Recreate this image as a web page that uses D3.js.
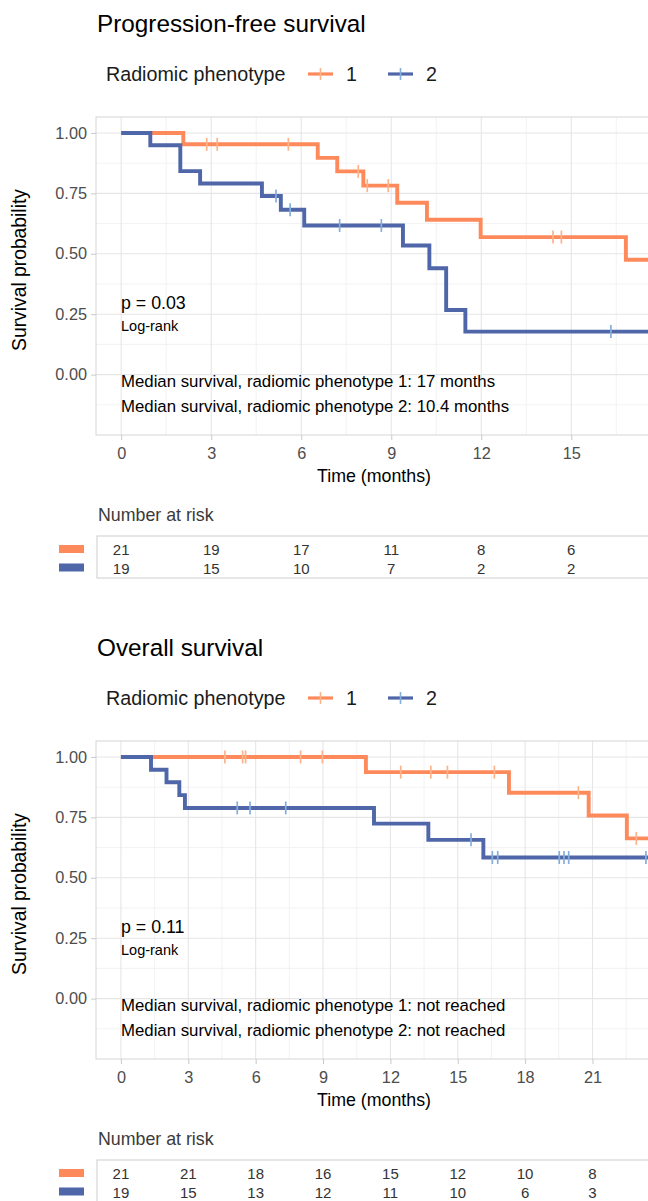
<!DOCTYPE html>
<html>
<head>
<meta charset="utf-8">
<script src="https://cdn.jsdelivr.net/npm/d3@7"></script>
<style>
  body { margin: 0; background: #fff; }
  svg { display: block; font-family: "Liberation Sans", Arial, sans-serif; }
</style>
</head>
<body>
<script>
"use strict";
// Progression-free survival
var pfsTimeTicks = [0, 3, 6, 9, 12, 15];
var pfs1Time = [0, 2.07, 6.55, 7.2, 8.07, 9.2, 10.19, 11.98, 16.82];
var pfs1Surv = [1, 0.953, 0.897, 0.841, 0.782, 0.711, 0.641, 0.569, 0.475];
var pfs1Censor = [2.85, 3.2, 5.57, 7.9, 8.2, 8.9, 14.39, 14.67];
var pfs2Time = [0, 0.97, 1.97, 2.63, 4.69, 5.32, 6.1, 9.39, 10.27, 10.83, 11.47];
var pfs2Surv = [1, 0.949, 0.842, 0.791, 0.739, 0.682, 0.617, 0.534, 0.440, 0.267, 0.178];
var pfs2Censor = [5.16, 5.63, 7.28, 8.67, 16.32];
var pfsRisk1 = [21, 19, 17, 11, 8, 6];
var pfsRisk2 = [19, 15, 10, 7, 2, 2];

// Overall survival
var osTimeTicks = [0, 3, 6, 9, 12, 15, 18, 21];
var os1Time = [0, 10.91, 17.28, 20.83, 22.53];
var os1Surv = [1, 0.937, 0.852, 0.758, 0.663];
var os1Censor = [4.63, 5.42, 5.55, 8.0, 8.97, 12.46, 13.8, 14.54, 16.63, 20.37, 22.95];
var os2Time = [0, 1.34, 2.03, 2.6, 2.85, 11.27, 13.69, 16.14];
var os2Surv = [1, 0.947, 0.895, 0.842, 0.789, 0.724, 0.657, 0.584];
var os2Censor = [5.18, 5.75, 7.34, 15.59, 16.54, 16.78, 19.52, 19.73, 19.94, 23.38];
var osRisk1 = [21, 21, 18, 16, 15, 12, 10, 8];
var osRisk2 = [19, 15, 13, 12, 11, 10, 6, 3];

var yTicks = [0, 0.25, 0.5, 0.75, 1];
var groups = ["1", "2"];
var colors = ["#FE8A5C", "#4F67A8"];
var censorColors = ["#FDB38A", "#86AEDD"];

var svg = d3.select("body").append("svg")
    .attr("width", 648)
    .attr("height", 1201);

function survAt(times, surv, t) {
    var s = 1;
    for (var i = 0; i < times.length; i++) {
        if (times[i] <= t) s = surv[i];
    }
    return s;
}

function drawKM(o) {
    var g = svg.append("g").attr("transform", "translate(0," + o.dy + ")");
    var left = 96, right = 652, top = 117, bottom = 435;
    var x = d3.scaleLinear().domain(o.xDomain).range([left, right]);
    var y = d3.scaleLinear().domain([-0.25, 1.066]).range([bottom, top]);

    // title + legend
    g.append("text").attr("x", 97).attr("y", 32)
        .style("font-size", "24.3px").attr("fill", "#000").text(o.title);
    g.append("text").attr("x", 106).attr("y", 81)
        .style("font-size", "19.7px").attr("fill", "#1a1a1a").text("Radiomic phenotype");
    var keyX = [308, 388];
    groups.forEach(function(k, i) {
        g.append("line").attr("x1", keyX[i]).attr("x2", keyX[i] + 25)
            .attr("y1", 74).attr("y2", 74)
            .attr("stroke", colors[i]).attr("stroke-width", 3.2);
        g.append("line").attr("x1", keyX[i] + 12.5).attr("x2", keyX[i] + 12.5)
            .attr("y1", 68).attr("y2", 80)
            .attr("stroke", censorColors[i]).attr("stroke-width", 1.6);
        g.append("text").attr("x", keyX[i] + 38).attr("y", 81)
            .style("font-size", "19.7px").attr("fill", "#1a1a1a").text(k);
    });

    // grid
    var xMinor = d3.range(1.5, o.xDomain[1], 3);
    var yMinor = [-0.125, 0.125, 0.375, 0.625, 0.875];
    g.selectAll(".xminor").data(xMinor).enter().append("line")
        .attr("x1", x).attr("x2", x).attr("y1", top).attr("y2", bottom)
        .attr("stroke", "#efefef").attr("stroke-width", 0.8);
    g.selectAll(".yminor").data(yMinor).enter().append("line")
        .attr("x1", left).attr("x2", right).attr("y1", y).attr("y2", y)
        .attr("stroke", "#efefef").attr("stroke-width", 0.8);
    g.selectAll(".xmajor").data(o.ticks).enter().append("line")
        .attr("x1", x).attr("x2", x).attr("y1", top).attr("y2", bottom)
        .attr("stroke", "#e6e6e6").attr("stroke-width", 1.1);
    g.selectAll(".ymajor").data(yTicks).enter().append("line")
        .attr("x1", left).attr("x2", right).attr("y1", y).attr("y2", y)
        .attr("stroke", "#e6e6e6").attr("stroke-width", 1.1);
    g.append("rect").attr("x", left).attr("y", top)
        .attr("width", right - left).attr("height", bottom - top)
        .attr("fill", "none").attr("stroke", "#d6d6d6").attr("stroke-width", 1);

    // axes
    var yAxis = g.append("g").attr("transform", "translate(" + left + ",0)")
        .call(d3.axisLeft(y).tickValues(yTicks).tickFormat(d3.format(".2f")).tickSize(5).tickPadding(4));
    var xAxis = g.append("g").attr("transform", "translate(0," + bottom + ")")
        .call(d3.axisBottom(x).tickValues(o.ticks).tickSize(5).tickPadding(7));
    [yAxis, xAxis].forEach(function(a) {
        a.select(".domain").remove();
        a.selectAll(".tick line").attr("stroke", "#c8c8c8");
        a.selectAll("text").style("font-size", "16.3px")
            .style("font-family", "'Liberation Sans', Arial, sans-serif").attr("fill", "#4d4d4d");
    });
    g.append("text").attr("x", 374).attr("y", 482).attr("text-anchor", "middle")
        .style("font-size", "17.8px").attr("fill", "#000").text("Time (months)");
    g.append("text").attr("transform", "translate(26,270) rotate(-90)")
        .attr("text-anchor", "middle")
        .style("font-size", "19.3px").attr("fill", "#000").text("Survival probability");

    // curves
    var clipId = "clip" + o.dy;
    g.append("clipPath").attr("id", clipId).append("rect")
        .attr("x", left).attr("y", top).attr("width", right - left).attr("height", bottom - top);
    var line = d3.line().x(function(d) { return x(d[0]); })
        .y(function(d) { return y(d[1]); }).curve(d3.curveStepAfter);
    var plot = g.append("g").attr("clip-path", "url(#" + clipId + ")");
    o.series.forEach(function(s, i) {
        var pts = s.time.map(function(t, j) { return [t, s.surv[j]]; });
        pts.push([o.xDomain[1], s.surv[s.surv.length - 1]]);
        plot.append("path").datum(pts).attr("d", line)
            .attr("fill", "none").attr("stroke", colors[i])
            .attr("stroke-width", 3.9).attr("stroke-linejoin", "miter");
        plot.selectAll(".c" + i).data(s.censor).enter().append("line")
            .attr("x1", x).attr("x2", x)
            .attr("y1", function(t) { return y(survAt(s.time, s.surv, t)) - 6.5; })
            .attr("y2", function(t) { return y(survAt(s.time, s.surv, t)) + 6.5; })
            .attr("stroke", censorColors[i]).attr("stroke-width", 1.7);
    });

    // annotations
    g.append("text").attr("x", 121).attr("y", 309)
        .style("font-size", "17.8px").attr("fill", "#000").text(o.pval);
    g.append("text").attr("x", 121).attr("y", 331)
        .style("font-size", "14.5px").attr("fill", "#000").text("Log-rank");
    o.medians.forEach(function(m, i) {
        g.append("text").attr("x", 121).attr("y", 387 + i * 24.5)
            .style("font-size", "16.8px").attr("fill", "#000").text(m);
    });

    // number at risk table
    g.append("text").attr("x", 98).attr("y", 521)
        .style("font-size", "17.8px").attr("fill", "#3a3a3a").text("Number at risk");
    g.append("rect").attr("x", 97).attr("y", 536).attr("width", 600).attr("height", 42)
        .attr("fill", "none").attr("stroke", "#d6d6d6").attr("stroke-width", 1.2);
    [o.risk1, o.risk2].forEach(function(r, i) {
        g.append("rect").attr("x", 59).attr("y", 545 + i * 18.5)
            .attr("width", 25).attr("height", 8).attr("fill", colors[i]);
        g.selectAll(".r" + i).data(r).enter().append("text")
            .attr("x", function(d, j) { return x(o.ticks[j]); })
            .attr("y", 554.5 + i * 19)
            .attr("text-anchor", "middle")
            .style("font-size", "15px").attr("fill", "#333")
            .text(function(d) { return d; });
    });
}

drawKM({
    dy: 0,
    title: "Progression-free survival",
    xDomain: [-0.84, 17.69],
    ticks: pfsTimeTicks,
    series: [
        {time: pfs1Time, surv: pfs1Surv, censor: pfs1Censor},
        {time: pfs2Time, surv: pfs2Surv, censor: pfs2Censor}
    ],
    pval: "p = 0.03",
    medians: ["Median survival, radiomic phenotype 1: 17 months",
              "Median survival, radiomic phenotype 2: 10.4 months"],
    risk1: pfsRisk1,
    risk2: pfsRisk2
});

drawKM({
    dy: 624,
    title: "Overall survival",
    xDomain: [-1.11, 23.65],
    ticks: osTimeTicks,
    series: [
        {time: os1Time, surv: os1Surv, censor: os1Censor},
        {time: os2Time, surv: os2Surv, censor: os2Censor}
    ],
    pval: "p = 0.11",
    medians: ["Median survival, radiomic phenotype 1: not reached",
              "Median survival, radiomic phenotype 2: not reached"],
    risk1: osRisk1,
    risk2: osRisk2
});
</script>
</body>
</html>
